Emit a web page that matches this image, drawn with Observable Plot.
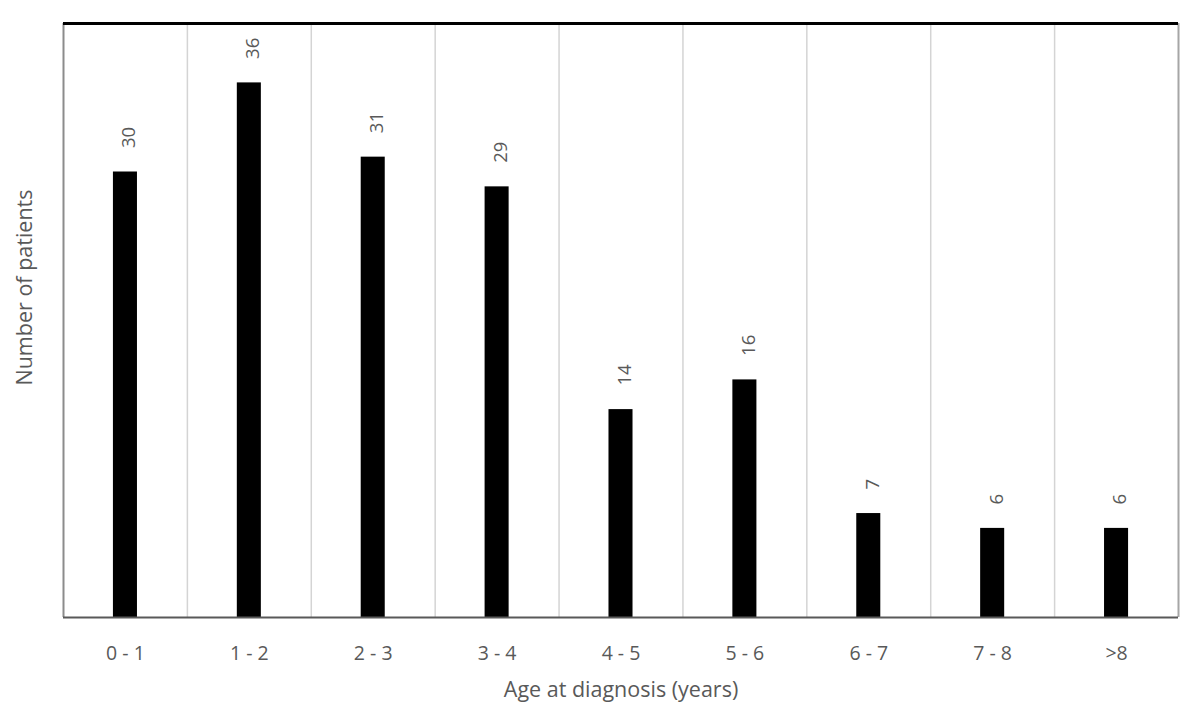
<!DOCTYPE html>
<html>
<head>
<meta charset="utf-8">
<script src="https://cdn.jsdelivr.net/npm/d3@7"></script>
<script src="https://cdn.jsdelivr.net/npm/@observablehq/plot@0.6"></script>
<style>
  html, body { margin: 0; padding: 0; background: #fff; }
  #chart svg { display: block; }
</style>
</head>
<body>
<div id="chart"></div>
<script>
const categories = ["0 - 1", "1 - 2", "2 - 3", "3 - 4", "4 - 5", "5 - 6", "6 - 7", "7 - 8", ">8"];
const patients = [30, 36, 31, 29, 14, 16, 7, 6, 6];
const xTitle = "Age at diagnosis (years)";
const yTitle = "Number of patients";

const data = categories.map((c, i) => ({cat: c, n: patients[i]}));

const W = 1200, H = 725;
const mL = 63, mR = 22, mT = 23, mB = 108;
const step = (W - mL - mR) / categories.length;
const font = "'Open Sans', sans-serif";

const chart = Plot.plot({
  width: W,
  height: H,
  marginLeft: mL,
  marginRight: mR,
  marginTop: mT,
  marginBottom: mB,
  style: {fontFamily: font, background: "#fff"},
  x: {domain: categories, paddingInner: 0.806, paddingOuter: 0.403, round: false, label: null},
  y: {domain: [0, 40], axis: null},
  marks: [
    // category separators (vertical gridlines)
    Plot.ruleX(categories.slice(1), {x: d => d, dx: -step / 2, stroke: "#d4d4d4", strokeWidth: 1.5}),
    // left and right borders
    Plot.ruleX(categories.slice(0, 1), {x: d => d, dx: -step / 2, stroke: "#8c8c8c", strokeWidth: 2}),
    Plot.ruleX(categories.slice(-1), {x: d => d, dx: step / 2, stroke: "#a6a6a6", strokeWidth: 2}),
    Plot.barY(data, {x: "cat", y: "n", fill: "#000"}),
    Plot.text(data, {
      x: "cat", y: "n", text: d => String(d.n),
      rotate: -90, textAnchor: "start", dy: -24, dx: 4,
      fill: "#595959", fontSize: 18.5, fontFamily: font
    }),
    // top border and baseline
    Plot.ruleY([40], {stroke: "#000", strokeWidth: 3}),
    Plot.ruleY([0], {stroke: "#595959", strokeWidth: 2}),
    Plot.axisX({tickSize: 0, tickPadding: 29, fontSize: 19.5, fill: "#595959", label: null}),
    Plot.text([xTitle], {frameAnchor: "bottom", textAnchor: "middle", lineAnchor: "middle", dy: 73, fontSize: 21.5, fill: "#595959", fontFamily: font}),
    Plot.text([yTitle], {frameAnchor: "left", textAnchor: "middle", lineAnchor: "middle", rotate: -90, dx: -38, dy: -33, fontSize: 21.5, fill: "#595959", fontFamily: font})
  ]
});

document.getElementById("chart").appendChild(chart);
</script>
</body>
</html>
